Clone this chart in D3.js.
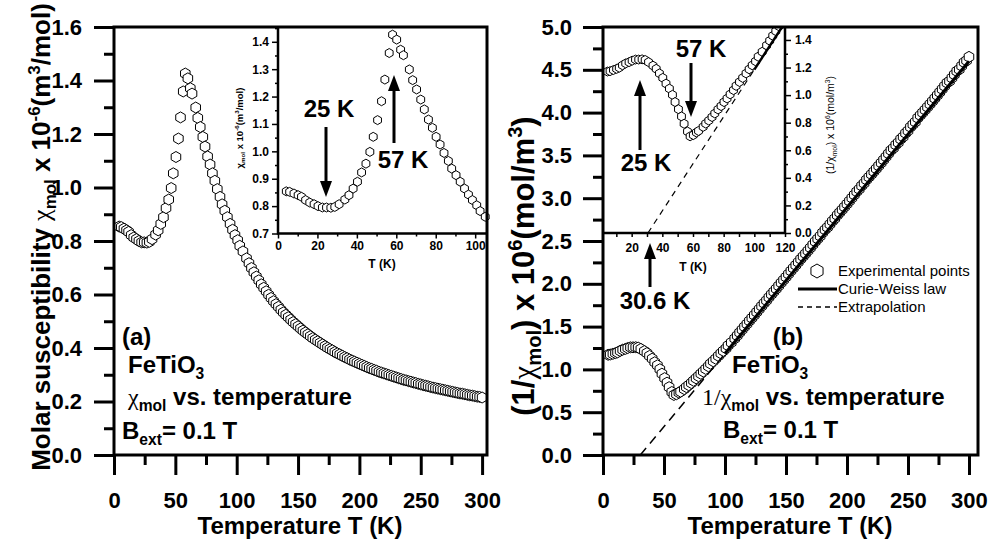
<!DOCTYPE html>
<html>
<head>
<meta charset="utf-8">
<script src="https://cdn.jsdelivr.net/npm/d3@7"></script>
<style>
  body { margin: 0; background: #fff; }
  svg text { font-family: "Liberation Sans", Arial, sans-serif; font-weight: bold; fill: #000; }
</style>
</head>
<body>
<svg id="fig" width="994" height="542"></svg>
<script>
const tLow = [4.2, 5.9, 8.1, 10.2, 11.9, 14.0, 16.1, 18.3, 20.3, 22.5, 24.6, 26.8, 28.8, 31.0, 33.9, 36.0,
  38.1, 40.3, 42.4, 44.6, 46.6, 48.3, 50.5, 52.5, 54.2, 56.4, 58.1, 60.2, 62.2, 63.6, 66.6, 68.3, 70.3,
  72.4, 74.2, 76.3, 78.3, 80.2, 82.2, 84.2, 86.4, 88.1, 90.3, 92.4, 94.6, 96.6, 98.6, 100.8, 102.5, 105.1];
const chiLow = [0.854, 0.852, 0.846, 0.840, 0.834, 0.822, 0.813, 0.807, 0.800, 0.795, 0.795, 0.794, 0.797,
  0.807, 0.824, 0.840, 0.864, 0.889, 0.923, 0.955, 0.998, 1.053, 1.114, 1.183, 1.262, 1.359, 1.426, 1.408,
  1.371, 1.351, 1.299, 1.260, 1.226, 1.189, 1.153, 1.116, 1.086, 1.053, 1.025, 0.994, 0.965, 0.937, 0.913,
  0.889, 0.864, 0.842, 0.822, 0.803, 0.782, 0.761];

// paramagnetic part up to 300 K
const tHigh = [108, 110, 112, 114, 116, 118, 120, 122, 124, 126, 128, 130, 132, 134, 136, 138, 140, 142, 144,
  146, 148, 150, 152, 154, 156, 158, 160, 162, 164, 166, 168, 170, 172, 174, 176, 178, 180, 182, 184, 186,
  188, 190, 192, 194, 196, 198, 200, 202, 204, 206, 208, 210, 212, 214, 216, 218, 220, 222, 224, 226, 228,
  230, 232, 234, 236, 238, 240, 242, 244, 246, 248, 250, 252, 254, 256, 258, 260, 262, 264, 266, 268, 270,
  272, 274, 276, 278, 280, 282, 284, 286, 288, 290, 292, 294, 296, 298, 300];
const chiHigh = [0.735, 0.717, 0.699, 0.683, 0.667, 0.653, 0.638, 0.625, 0.612, 0.599, 0.587, 0.575, 0.564,
  0.554, 0.543, 0.533, 0.524, 0.515, 0.506, 0.497, 0.489, 0.481, 0.473, 0.465, 0.458, 0.451, 0.444, 0.437,
  0.431, 0.425, 0.419, 0.413, 0.407, 0.401, 0.396, 0.391, 0.385, 0.380, 0.376, 0.371, 0.366, 0.362, 0.357,
  0.353, 0.349, 0.345, 0.341, 0.337, 0.333, 0.329, 0.325, 0.322, 0.318, 0.315, 0.311, 0.308, 0.305, 0.302,
  0.299, 0.296, 0.293, 0.290, 0.287, 0.284, 0.281, 0.279, 0.276, 0.274, 0.271, 0.269, 0.266, 0.264, 0.261,
  0.259, 0.257, 0.254, 0.252, 0.250, 0.248, 0.246, 0.244, 0.242, 0.240, 0.238, 0.236, 0.234, 0.232, 0.230,
  0.229, 0.227, 0.225, 0.223, 0.222, 0.220, 0.218, 0.217, 0.215];

// Curie-Weiss fit and its extrapolation to the T axis
const cwT = [100, 300];
const cwInv = [1.185, 4.60];
const exT = [30.6, 100];
const exInv = [0, 1.185];

// ticks
const xMajor = [0, 50, 100, 150, 200, 250, 300];
const xMinor = [25, 75, 125, 175, 225, 275];
const yMajorA = [0, 0.2, 0.4, 0.6, 0.8, 1.0, 1.2, 1.4, 1.6];
const yMinorA = [0.1, 0.3, 0.5, 0.7, 0.9, 1.1, 1.3, 1.5];
const yMajorB = [0, 0.5, 1.0, 1.5, 2.0, 2.5, 3.0, 3.5, 4.0, 4.5, 5.0];
const yMinorB = [0.25, 0.75, 1.25, 1.75, 2.25, 2.75, 3.25, 3.75, 4.25, 4.75];
const inAxMajor = [0, 20, 40, 60, 80, 100];
const inAxMinor = [10, 30, 50, 70, 90];
const inAyMajor = [0.7, 0.8, 0.9, 1.0, 1.1, 1.2, 1.3, 1.4];
const inAyMinor = [0.75, 0.85, 0.95, 1.05, 1.15, 1.25, 1.35, 1.45];
const inBxMajor = [20, 40, 60, 80, 100, 120];
const inBxMinor = [10, 30, 50, 70, 90, 110];
const inByMajor = [0, 0.2, 0.4, 0.6, 0.8, 1.0, 1.2, 1.4];
const inByMinor = [0.1, 0.3, 0.5, 0.7, 0.9, 1.1, 1.3];

const temperature = tLow.concat(tHigh);
const chiMol = chiLow.concat(chiHigh);
const invChi = chiMol.map(v => 1 / v);
const ptsA = d3.zip(temperature, chiMol);
const ptsB = d3.zip(temperature, invChi);

const svg = d3.select('#fig');
const SERIF = '"Liberation Serif", "Times New Roman", serif';

function hexPath(r) {
  const p = d3.range(6).map(i => {
    const a = Math.PI / 2 + i * Math.PI / 3;
    return [r * Math.cos(a), r * Math.sin(a)];
  });
  return 'M' + p.map(q => q.join(',')).join('L') + 'Z';
}

// axis with major + minor ticks, no domain line (frame drawn separately)
function ticks(g, axisFn, scale, major, minor, bigLen, smallLen, pad, fs, fmt, sw, tf) {
  const a = g.append('g').attr('transform', tf)
    .call(axisFn(scale).tickValues(major).tickSize(bigLen).tickPadding(pad).tickFormat(fmt));
  const b = g.append('g').attr('transform', tf)
    .call(axisFn(scale).tickValues(minor).tickSize(smallLen).tickFormat(''));
  [a, b].forEach(s => {
    s.attr('font-family', null).attr('font-size', fs);
    s.select('.domain').remove();
    s.selectAll('.tick line').attr('stroke', '#000').attr('stroke-width', sw);
  });
  a.selectAll('.tick text').attr('fill', '#000');
  return a;
}

function rich(parent, x, y, parts, fs, anchor, rot) {
  const t = parent.append('text').attr('x', x).attr('y', y).attr('font-size', fs)
    .attr('text-anchor', anchor || 'start');
  if (rot) t.attr('transform', `rotate(-90,${x},${y})`);
  let shift = 0;
  parts.forEach(([str, kind, fam, weight]) => {
    const target = kind === 'sub' ? fs * 0.24 : kind === 'sup' ? -fs * 0.4 : 0;
    const ts = t.append('tspan').text(str).attr('dy', target - shift);
    if (kind) ts.attr('font-size', fs * 0.65);
    if (fam) ts.attr('font-family', fam);
    if (weight) ts.attr('font-weight', weight);
    shift = target;
  });
  return t;
}

function arrow(g, x, yFrom, yTip) {
  const dir = yTip < yFrom ? 1 : -1;
  const head = 16, hw = 6;
  g.append('line').attr('x1', x).attr('x2', x).attr('y1', yFrom).attr('y2', yTip + dir * head)
    .attr('stroke', '#000').attr('stroke-width', 3);
  g.append('path')
    .attr('d', `M${x},${yTip}L${x - hw},${yTip + dir * head}L${x + hw},${yTip + dir * head}Z`)
    .attr('fill', '#000');
}

function markers(g, pts, x, y, r) {
  g.append('g').selectAll('path').data(pts).join('path')
    .attr('d', hexPath(r))
    .attr('transform', d => `translate(${x(d[0])},${y(d[1])})`)
    .attr('fill', '#fff').attr('stroke', '#000').attr('stroke-width', 1);
}

const line = (x, y) => d3.line().x(d => x(d[0])).y(d => y(d[1]));

// ---------------- panel (a) ----------------
const xA = d3.scaleLinear().domain([0, 304]).range([114, 487]);
const yA = d3.scaleLinear().domain([0, 1.6]).range([455, 27]);
const gA = svg.append('g');

markers(gA, ptsA, xA, yA, 5.5);

ticks(gA, d3.axisBottom, xA, xMajor, xMinor, 20, 10, 17, 22, d3.format('d'), 3, 'translate(0,455)');
ticks(gA, d3.axisLeft, yA, yMajorA, yMinorA, 20, 10, 12, 22, d3.format('.1f'), 3, 'translate(114,0)');

gA.append('text').attr('x', 300).attr('y', 534).attr('text-anchor', 'middle').attr('font-size', 24)
  .text('Temperature T (K)');
rich(gA, 50, 237, [['Molar susceptibility '], ['\u03c7', null, SERIF, 'normal'], ['mol', 'sub'],
  [' x 10'], ['-6', 'sup'], ['(m'], ['3', 'sup'], ['/mol)']], 26, 'middle', true);

gA.append('text').attr('x', 122).attr('y', 345).attr('font-size', 24).text('(a)');
rich(gA, 128, 373, [['FeTiO'], ['3', 'sub']], 24);
rich(gA, 128, 405, [['\u03c7', null, SERIF, 'normal'], ['mol', 'sub'], [' vs. temperature']], 24);
rich(gA, 122, 439, [['B'], ['ext', 'sub'], ['= 0.1 T']], 24);

// inset (a)
const xIA = d3.scaleLinear().domain([0, 106]).range([278, 487]);
const yIA = d3.scaleLinear().domain([0.7, 1.454]).range([233.5, 27]);
const iA = svg.append('g');
iA.append('rect').attr('x', 278).attr('y', 27).attr('width', 209).attr('height', 206.5).attr('fill', '#fff');
markers(iA, ptsA.filter(d => d[0] <= 106), xIA, yIA, 4.5);
ticks(iA, d3.axisBottom, xIA, inAxMajor, inAxMinor, 5, 3, 3, 12, d3.format('d'), 1.5, 'translate(0,233.5)');
ticks(iA, d3.axisLeft, yIA, inAyMajor, inAyMinor, 6, 3, 3, 12, d3.format('.1f'), 1.5, 'translate(278,0)');
iA.append('path').attr('d', 'M278,27V233.5H487').attr('fill', 'none').attr('stroke', '#000').attr('stroke-width', 2.5);
iA.append('text').attr('x', 382).attr('y', 268).attr('text-anchor', 'middle').attr('font-size', 12).text('T (K)');
rich(iA, 243, 128, [['\u03c7'], ['mol', 'sub'], [' x 10'], ['-6', 'sup'], ['(m'], ['3', 'sup'], ['/mol)']], 9.5, 'middle', true);

arrow(iA, 326, 127, 197);
arrow(iA, 394, 143, 75);
iA.append('text').attr('x', 329).attr('y', 117).attr('text-anchor', 'middle').attr('font-size', 24).text('25 K');
iA.append('text').attr('x', 403).attr('y', 168).attr('text-anchor', 'middle').attr('font-size', 24).text('57 K');

gA.append('rect').attr('x', 114).attr('y', 27).attr('width', 373).attr('height', 428)
  .attr('fill', 'none').attr('stroke', '#000').attr('stroke-width', 3);
svg.node().appendChild(gA.node());

// ---------------- panel (b) ----------------
const xB = d3.scaleLinear().domain([0, 307.4]).range([603, 978]);
const yB = d3.scaleLinear().domain([0, 5]).range([455, 27]);
const gB = svg.append('g');

markers(gB, ptsB, xB, yB, 5.5);
gB.append('path').datum(d3.zip(cwT, cwInv)).attr('d', line(xB, yB))
  .attr('fill', 'none').attr('stroke', '#000').attr('stroke-width', 3);
gB.append('path').datum(d3.zip(exT, exInv)).attr('d', line(xB, yB))
  .attr('fill', 'none').attr('stroke', '#000').attr('stroke-width', 1.5).attr('stroke-dasharray', '9,6');

ticks(gB, d3.axisBottom, xB, xMajor, xMinor, 20, 10, 17, 22, d3.format('d'), 3, 'translate(0,455)');
ticks(gB, d3.axisLeft, yB, yMajorB, yMinorB, 20, 10, 11, 22, d3.format('.1f'), 3, 'translate(603,0)');

gB.append('text').attr('x', 790).attr('y', 534).attr('text-anchor', 'middle').attr('font-size', 24)
  .text('Temperature T (K)');
rich(gB, 534, 266, [['(1/'], ['\u03c7', null, SERIF, 'normal'], ['mol', 'sub'], [') x 10'], ['6', 'sup'],
  ['(mol/m'], ['3', 'sup'], [')']], 31, 'middle', true);

gB.append('text').attr('x', 788).attr('y', 345).attr('text-anchor', 'middle').attr('font-size', 24).text('(b)');
rich(gB, 732, 373, [['FeTiO'], ['3', 'sub']], 24);
rich(gB, 702, 405, [['1/\u03c7', null, SERIF, 'normal'], ['mol', 'sub'], [' vs. temperature']], 24);
rich(gB, 723, 438, [['B'], ['ext', 'sub'], ['= 0.1 T']], 24);

// legend
const lg = gB.append('g');
lg.append('path').attr('d', hexPath(7)).attr('transform', 'translate(817,271)')
  .attr('fill', '#fff').attr('stroke', '#000').attr('stroke-width', 1);
lg.append('line').attr('x1', 798).attr('x2', 837).attr('y1', 289).attr('y2', 289)
  .attr('stroke', '#000').attr('stroke-width', 3);
lg.append('line').attr('x1', 798).attr('x2', 837).attr('y1', 307).attr('y2', 307)
  .attr('stroke', '#000').attr('stroke-width', 1.5).attr('stroke-dasharray', '5,4');
[['Experimental points', 271], ['Curie-Weiss law', 289], ['Extrapolation', 307]].forEach(([s, y]) => {
  lg.append('text').attr('x', 838).attr('y', y).attr('dy', '0.35em').attr('font-size', 15)
    .style('font-weight', 'normal').text(s);
});

// inset (b)
const xIB = d3.scaleLinear().domain([0, 120]).range([601, 785]);
const yIB = d3.scaleLinear().domain([0, 1.494]).range([233, 27]);
const iB = svg.append('g');
svg.append('clipPath').attr('id', 'clipB').append('rect')
  .attr('x', 603).attr('y', 27).attr('width', 182).attr('height', 206);
iB.append('rect').attr('x', 603).attr('y', 27).attr('width', 182).attr('height', 206).attr('fill', '#fff');
const iBd = iB.append('g').attr('clip-path', 'url(#clipB)');
iBd.append('path').datum(d3.zip(exT, exInv)).attr('d', line(xIB, yIB))
  .attr('fill', 'none').attr('stroke', '#000').attr('stroke-width', 1.2).attr('stroke-dasharray', '6,5');
markers(iBd, ptsB.filter(d => d[0] <= 125), xIB, yIB, 4.5);
iBd.append('path').datum(d3.zip(cwT, cwInv)).attr('d', line(xIB, yIB))
  .attr('fill', 'none').attr('stroke', '#000').attr('stroke-width', 2.5);
ticks(iB, d3.axisBottom, xIB, inBxMajor, inBxMinor, 4, 4, 6, 12, d3.format('d'), 1.5, 'translate(0,233)');
ticks(iB, d3.axisRight, yIB, inByMajor, inByMinor, 6, 3, 4, 12, d3.format('.1f'), 1.5, 'translate(785,0)');
iB.append('path').attr('d', 'M603,233H785V27').attr('fill', 'none').attr('stroke', '#000').attr('stroke-width', 2.5);
iB.append('text').attr('x', 693).attr('y', 271).attr('text-anchor', 'middle').attr('font-size', 12).text('T (K)');
rich(iB, 834, 125, [['(1/'], ['\u03c7'], ['mol', 'sub'], [') x 10'], ['6', 'sup'], ['(mol/m'], ['3', 'sup'], [')']],
  10.5, 'middle', true).style('font-weight', 'normal');

arrow(iB, 640, 150, 80);
arrow(iB, 691, 63, 117);
arrow(iB, 650, 287, 243);
iB.append('text').attr('x', 646).attr('y', 171).attr('text-anchor', 'middle').attr('font-size', 24).text('25 K');
iB.append('text').attr('x', 701).attr('y', 57).attr('text-anchor', 'middle').attr('font-size', 24).text('57 K');
iB.append('text').attr('x', 655).attr('y', 309).attr('text-anchor', 'middle').attr('font-size', 24).text('30.6 K');

// outer frame of (b) on top
gB.append('rect').attr('x', 603).attr('y', 27).attr('width', 375).attr('height', 428)
  .attr('fill', 'none').attr('stroke', '#000').attr('stroke-width', 3);
svg.node().appendChild(gB.node());
</script>
</body>
</html>
